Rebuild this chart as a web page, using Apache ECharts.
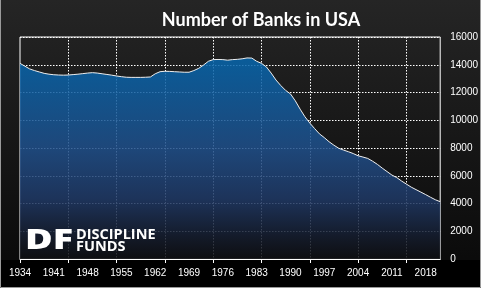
<!DOCTYPE html>
<html>
<head>
<meta charset="utf-8">
<script src="https://cdn.jsdelivr.net/npm/echarts@6/dist/echarts.min.js"></script>
<style>
html,body{margin:0;padding:0;background:#1a1a1a;}
#c{width:481px;height:288px;}
</style>
</head>
<body>
<div id="c"></div>
<script>
var years = [];
for (var y = 1934; y <= 2021; y++) years.push(String(y));

var banks = [
  14100, 13900, 13700, 13580, 13480, 13380, 13320, 13280, 13260, 13250,
  13260, 13290, 13320, 13360, 13400, 13430, 13400, 13350, 13300, 13250,
  13190, 13140, 13100, 13090, 13090, 13090, 13100, 13120, 13350, 13500,
  13530, 13520, 13500, 13480, 13460, 13460, 13580, 13740, 13980, 14250,
  14370, 14380, 14370, 14330, 14370, 14390, 14430, 14490, 14480, 14250,
  14100, 13850, 13400, 12900, 12500, 12150, 11900, 11400, 10800, 10250,
  9800, 9400, 9020, 8750, 8450, 8200, 7980, 7850, 7730, 7600,
  7440, 7350, 7250, 7050, 6820, 6550, 6300, 6050, 5870, 5620,
  5400, 5180, 5000, 4820, 4640, 4450, 4270, 4130
];

var yTicks = [0, 2000, 4000, 6000, 8000, 10000, 12000, 14000, 16000];
var titleText = "Number of Banks in USA";

var chart = echarts.init(document.getElementById('c'), null, {renderer: 'canvas'});
var lblFont = 'Liberation Sans';
chart.setOption({
  animation: false,
  backgroundColor: {
    type: 'linear', x: 0, y: 0, x2: 0, y2: 1,
    colorStops: [{offset: 0, color: '#252525'}, {offset: 1, color: '#080808'}]
  },
  title: {
    text: titleText,
    left: 256, top: 6, textAlign: 'center',
    textStyle: {color: '#ffffff', fontFamily: 'Lato', fontWeight: 'bold', fontSize: 18}
  },
  grid: {
    left: 20, right: 39, top: 37, bottom: 29,
    show: true, borderColor: '#ffffff', borderWidth: 1, backgroundColor: 'transparent'
  },
  graphic: [
    {type: 'rect', z: -100, shape: {x: 0, y: 260, width: 481, height: 28}, style: {fill: '#000000'}, silent: true},
    {type: 'rect', z: 100, shape: {x: 0.5, y: -2, width: 480, height: 289.5}, style: {fill: null, stroke: '#9a9a9a', lineWidth: 1}, silent: true},
    {type: 'text', z: 100, left: 25, top: 227, scaleX: 1.35, style: {text: 'DF', fill: '#ffffff', font: '800 28px "Open Sans"'}},
    {type: 'text', z: 100, left: 76, top: 227, style: {text: 'DISCIPLINE', fill: '#ffffff', font: 'bold 14.5px "Open Sans"'}},
    {type: 'text', z: 100, left: 76, top: 239, style: {text: 'FUNDS', fill: '#ffffff', font: 'bold 14.5px "Open Sans"'}}
  ],
  xAxis: {
    type: 'category',
    data: years,
    boundaryGap: false,
    axisLine: {lineStyle: {color: '#ffffff', width: 1}},
    axisTick: {show: true, length: 4, lineStyle: {color: '#ffffff'},
      interval: function (i) { return i % 10 === 0; }},
    axisLabel: {color: '#ffffff', fontFamily: lblFont, fontSize: 10, margin: 9,
      interval: function (i) { return i % 7 === 0; }},
    splitLine: {show: true, lineStyle: {color: '#ffffff', type: [1.5, 1.5], width: 1},
      interval: function (i) { return i % 10 === 0 && i > 0; }}
  },
  yAxis: {
    type: 'value',
    position: 'right',
    min: yTicks[0], max: yTicks[yTicks.length - 1], interval: yTicks[1] - yTicks[0],
    axisLine: {show: false},
    axisTick: {show: false},
    axisLabel: {color: '#ffffff', fontFamily: lblFont, fontSize: 10, margin: 10,
      formatter: function (v) { return String(v); }},
    splitLine: {show: true, lineStyle: {color: '#ffffff', type: [1.5, 1.5], width: 1}}
  },
  series: [{
    type: 'line',
    data: banks,
    symbol: 'none',
    lineStyle: {color: '#eeeeee', width: 1},
    areaStyle: {
      opacity: 0.86,
      color: {
        type: 'linear', x: 0, y: 0, x2: 0, y2: 1,
        colorStops: [
          {offset: 0, color: '#0666ad'},
          {offset: 0.45, color: '#1f4f8a'},
          {offset: 0.7, color: '#1f3966'},
          {offset: 0.9, color: '#141b2b'},
          {offset: 1, color: '#0e0f12'}
        ]
      }
    }
  }]
});
</script>
</body>
</html>
